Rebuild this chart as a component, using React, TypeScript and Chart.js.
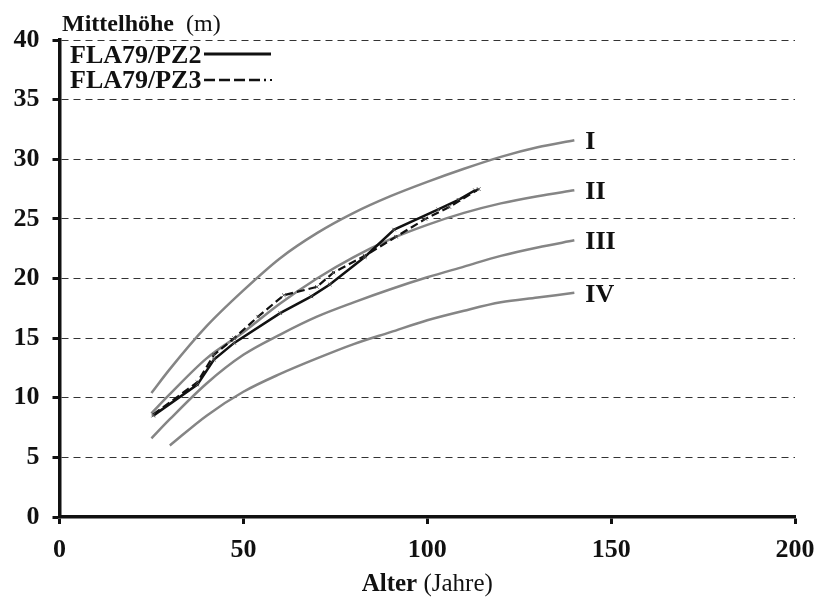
import { useEffect, useRef } from 'react';
import { Chart, registerables } from 'chart.js';

Chart.register(...registerables);

// Site-class height curves (Ertragstafel bonitäten)
const ages = [25, 30, 40, 50, 60, 70, 80, 90, 100, 110, 120, 130, 140];
const siteI = [10.4, 12.4, 16.0, 19.0, 21.7, 23.8, 25.5, 26.9, 28.1, 29.2, 30.2, 31.0, 31.6];
const siteII = [8.7, 10.3, 13.3, 15.5, 17.9, 20.0, 21.8, 23.3, 24.5, 25.5, 26.3, 26.9, 27.4];
const siteIII = [6.6, 8.2, 11.2, 13.6, 15.3, 16.8, 18.0, 19.1, 20.1, 21.0, 21.9, 22.6, 23.2];
const agesIV = [30, 40, 50, 60, 70, 80, 90, 100, 110, 120, 130, 140];
const siteIV = [6.0, 8.5, 10.5, 12.0, 13.3, 14.5, 15.5, 16.5, 17.3, 18.0, 18.4, 18.8];
const classLabels = ['I', 'II', 'III', 'IV'];

// Plot measurements
const pz2Ages = [25.5, 37.5, 42, 47.5, 60, 68.5, 73.5, 83, 91, 103, 108.5, 113];
const pz2Heights = [8.5, 11.1, 13.2, 14.6, 17.1, 18.5, 19.5, 21.8, 24.1, 25.8, 26.6, 27.4];
const pz3Ages = [25.5, 37.5, 42, 47.5, 54, 61, 70, 74.5, 83, 91.5, 99.5, 106, 114];
const pz3Heights = [8.6, 11.3, 13.6, 15.0, 16.8, 18.6, 19.3, 20.5, 21.9, 23.5, 25.0, 26.0, 27.5];
const seriesNames = ['FLA79/PZ2', 'FLA79/PZ3'];

const xTicks = [0, 50, 100, 150, 200];
const yTicks = [0, 5, 10, 15, 20, 25, 30, 35, 40];

const SERIF = '"Liberation Serif", "Times New Roman", serif';
const INK = '#111111';
const CURVE = '#858585';

const pts = (xs: number[], ys: number[]) => xs.map((x, i) => ({ x, y: ys[i] }));

const overlay = {
  id: 'overlay',
  afterDraw(chart: any) {
    const { ctx } = chart;
    ctx.save();
    ctx.fillStyle = INK;
    ctx.strokeStyle = INK;

    // Y axis title
    ctx.textAlign = 'left';
    ctx.textBaseline = 'alphabetic';
    ctx.font = `bold 24px ${SERIF}`;
    ctx.fillText('Mittelhöhe', 62, 31);
    const wy = ctx.measureText('Mittelhöhe').width;
    ctx.font = `24px ${SERIF}`;
    ctx.fillText('(m)', 62 + wy + 12, 31);

    // X axis title, centred under the plot
    const cx = (chart.chartArea.left + chart.chartArea.right) / 2;
    ctx.font = `bold 25px ${SERIF}`;
    const wa = ctx.measureText('Alter ').width;
    ctx.font = `25px ${SERIF}`;
    const wj = ctx.measureText('(Jahre)').width;
    const sx = cx - (wa + wj) / 2;
    ctx.font = `bold 25px ${SERIF}`;
    ctx.fillText('Alter', sx, 591);
    ctx.font = `25px ${SERIF}`;
    ctx.fillText('(Jahre)', sx + wa, 591);

    // Legend
    ctx.font = `bold 26px ${SERIF}`;
    ctx.fillText(seriesNames[0], 70, 63);
    ctx.fillText(seriesNames[1], 70, 88);
    ctx.lineWidth = 3;
    ctx.beginPath();
    ctx.moveTo(204, 54);
    ctx.lineTo(271, 54);
    ctx.stroke();
    ctx.lineWidth = 2.5;
    ctx.setLineDash([11, 4]);
    ctx.beginPath();
    ctx.moveTo(204, 80);
    ctx.lineTo(266, 80);
    ctx.stroke();
    ctx.setLineDash([]);
    ctx.fillRect(270, 79, 2, 2);

    // Site-class labels at the end of each curve
    ctx.font = `bold 26px ${SERIF}`;
    ctx.textBaseline = 'middle';
    classLabels.forEach((label, i) => {
      const data = chart.getDatasetMeta(i).data;
      const last = data[data.length - 1];
      ctx.fillText(label, last.x + 11, last.y + 2);
    });
    ctx.restore();
  },
};

export default function App() {
  const canvasRef = useRef<HTMLCanvasElement | null>(null);

  useEffect(() => {
    const canvas = canvasRef.current;
    if (!canvas) return;

    const curve = (xs: number[], ys: number[]) => ({
      data: pts(xs, ys),
      borderColor: CURVE,
      borderWidth: 2.5,
      pointRadius: 0,
      cubicInterpolationMode: 'monotone' as const,
      order: 2,
    });

    const chart = new Chart(canvas, {
      type: 'line',
      data: {
        datasets: [
          curve(ages, siteI),
          curve(ages, siteII),
          curve(ages, siteIII),
          curve(agesIV, siteIV),
          {
            label: seriesNames[0],
            data: pts(pz2Ages, pz2Heights),
            borderColor: INK,
            borderWidth: 2.5,
            pointStyle: 'crossRot',
            pointRadius: 2.5,
            pointBorderColor: '#555',
            pointBorderWidth: 1,
            tension: 0,
            order: 1,
          },
          {
            label: seriesNames[1],
            data: pts(pz3Ages, pz3Heights),
            borderColor: INK,
            borderWidth: 2.2,
            borderDash: [8, 4],
            pointStyle: 'crossRot',
            pointRadius: 2.5,
            pointBorderColor: '#555',
            pointBorderWidth: 1,
            tension: 0,
            order: 0,
          },
        ],
      },
      options: {
        responsive: false,
        animation: false,
        events: [],
        layout: { padding: { top: 40, right: 23, left: 0, bottom: 0 } },
        plugins: { legend: { display: false }, tooltip: { enabled: false } },
        scales: {
          x: {
            type: 'linear',
            min: 0,
            max: 200,
            afterFit: (s: any) => {
              s.height = 82;
              s.paddingLeft = 0;
              s.paddingRight = 0;
            },
            afterBuildTicks: (s: any) => {
              s.ticks = xTicks.map((value) => ({ value }));
            },
            ticks: {
              font: { family: SERIF, size: 26, weight: 'bold' },
              color: INK,
              padding: 11,
              maxRotation: 0,
            },
            grid: {
              drawOnChartArea: false,
              tickLength: 7,
              tickWidth: 3,
              tickColor: INK,
            },
            border: { color: INK, width: 3.5 },
          },
          y: {
            type: 'linear',
            min: 0,
            max: 40,
            afterFit: (s: any) => {
              s.width = 59.5;
              s.paddingTop = 0;
              s.paddingBottom = 0;
            },
            afterBuildTicks: (s: any) => {
              s.ticks = yTicks.map((value) => ({ value }));
            },
            ticks: {
              font: { family: SERIF, size: 26, weight: 'bold' },
              color: INK,
              padding: 13,
            },
            grid: {
              color: '#333333',
              lineWidth: 1,
              tickLength: 7,
              tickWidth: 3,
              tickColor: INK,
            },
            border: { color: INK, width: 3.5, dash: [7, 5] },
          },
        },
      },
      plugins: [overlay],
    });

    return () => chart.destroy();
  }, []);

  return (
    <div style={{ position: 'fixed', left: 0, top: 0, width: 818, height: 599, background: '#fff' }}>
      <canvas ref={canvasRef} width={818} height={599} style={{ width: 818, height: 599, display: 'block' }} />
    </div>
  );
}
